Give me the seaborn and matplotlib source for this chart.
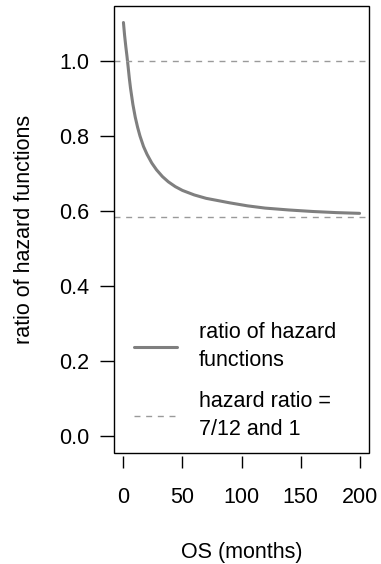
import matplotlib
matplotlib.use("Agg")
import matplotlib.pyplot as plt
import seaborn as sns
import pandas as pd
from matplotlib.patches import Rectangle

# data
months = [0, 1, 2, 3, 4, 5, 6, 8, 10, 12, 14, 17, 20, 24, 28, 33, 38, 44, 50,
          60, 70, 80, 90, 105, 120, 140, 160, 180, 200]
ratio = [1.102, 1.067, 1.038, 1.012, 0.983, 0.953, 0.927, 0.884, 0.850, 0.823,
         0.800, 0.772, 0.751, 0.728, 0.710, 0.692, 0.678, 0.665, 0.655,
         0.643, 0.634, 0.628, 0.622, 0.614, 0.608, 0.603, 0.599, 0.596, 0.594]
ref_hr = [7 / 12, 1.0]
x_ticks = [0, 50, 100, 150, 200]
y_ticks = [0.0, 0.2, 0.4, 0.6, 0.8, 1.0]
labels = ["ratio of hazard\nfunctions", "hazard ratio =\n7/12 and 1"]

sns.set_theme(style="white")
plt.rcParams["font.family"] = ["Liberation Sans", "DejaVu Sans"]
plt.rcParams["text.color"] = "black"
plt.rcParams["axes.labelcolor"] = "black"
plt.rcParams["xtick.color"] = "black"
plt.rcParams["ytick.color"] = "black"

fig = plt.figure(figsize=(3.81, 5.64), dpi=100)
ax = fig.add_axes([114 / 381, 1 - 453 / 564, (369 - 114) / 381, (453 - 6) / 564])

df = pd.DataFrame({"months": months, "ratio": ratio})
sns.lineplot(data=df, x="months", y="ratio", ax=ax, color="#7f7f7f", lw=2.2,
             label=labels[0], legend=False)
dash_handle = None
for h in ref_hr:
    dash_handle = ax.axhline(h, color="#9a9a9a", lw=1.0, dashes=(4.3, 4.1))

ax.set_xlim(-8, 208)
ax.set_ylim(-0.044, 1.146)
ax.set_xticks(x_ticks)
ax.set_xticklabels([str(v) for v in x_ticks])
ax.set_yticks(y_ticks)
ax.set_yticklabels([f"{v:.1f}" for v in y_ticks])

fs = 15.5
ax.tick_params(axis="y", direction="out", length=10, width=1.0, colors="black",
               pad=8, labelsize=fs, left=True)
ax.tick_params(axis="x", direction="out", length=8.6, width=1.0, colors="black",
               pad=14, labelsize=fs, bottom=True)

for s in ax.spines.values():
    s.set_visible(False)
ax.spines["bottom"].set_position(("outward", 2.2))
ax.add_patch(Rectangle((0, 0), 1, 1, transform=ax.transAxes, fill=False,
                       edgecolor="black", lw=1.0, clip_on=False, zorder=5))

ax.set_xlabel("OS (months)", fontsize=fs, labelpad=24)
ax.set_ylabel("ratio of hazard functions", fontsize=fs, labelpad=17)

line_handle = ax.get_lines()[0]
leg = ax.legend([line_handle, dash_handle], labels, loc="upper left",
                bbox_to_anchor=(0.08, 0.293), frameon=False, fontsize=fs,
                handlelength=2.0, handletextpad=1.0, labelspacing=0.9,
                borderpad=0, borderaxespad=0)
for t in leg.get_texts():
    t.set_linespacing(1.45)

fig.savefig("out.png", dpi=100)
